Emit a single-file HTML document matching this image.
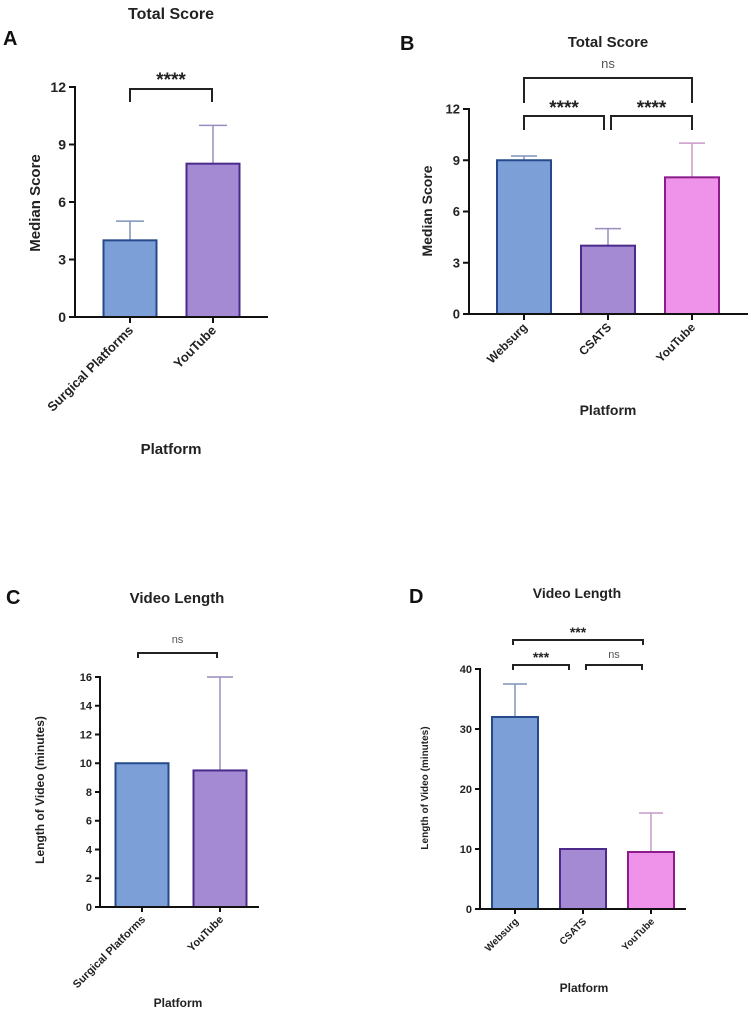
<!DOCTYPE html>
<html><head><meta charset="utf-8"><style>
body{margin:0;background:#fff;}
svg{display:block;font-family:"Liberation Sans",Arial,sans-serif;}
</style></head><body>
<svg id="fig" width="751" height="1018" viewBox="0 0 751 1018" xmlns="http://www.w3.org/2000/svg"></svg>
<script>
// Panel A
const catsA = ["Surgical Platforms","YouTube"];
const valsA = [4, 8];
const errA = [5, 10];
const ticksA = [0,3,6,9,12];
// Panel B
const catsB = ["Websurg","CSATS","YouTube"];
const valsB = [9, 4, 8];
const errB = [9.25, 5, 10];
const ticksB = [0,3,6,9,12];
// Panel C
const catsC = ["Surgical Platforms","YouTube"];
const valsC = [10, 9.5];
const errC = [10, 16];
const ticksC = [0,2,4,6,8,10,12,14,16];
// Panel D
const catsD = ["Websurg","CSATS","YouTube"];
const valsD = [32, 10, 9.5];
const errD = [37.5, 10, 16];
const ticksD = [0,10,20,30,40];

const NS="http://www.w3.org/2000/svg";
const svg=document.getElementById('fig');
function mk(tag,attrs,parent,text){const e=document.createElementNS(NS,tag);for(const k in attrs)e.setAttribute(k,attrs[k]);if(text!==undefined)e.textContent=text;(parent||svg).appendChild(e);return e;}

const fills=["#7b9fd6","#a48ad2","#ee93e9"];
const strokes=["#254a8c","#4b2a8c","#8c1c8c"];
const errCols=["#7f93b8","#9c8cbf","#c99ac8"];

function panel(cfg){
  const g=mk('g',{});
  
  
  const ymin=0,ymax=cfg.ticks[cfg.ticks.length-1];
  const Y=v=>cfg.y0+(cfg.y1-cfg.y0)*(v-ymin)/(ymax-ymin);
  const X=i=>cfg.centers[i];
  cfg.vals.forEach((v,i)=>{
    const ci=cfg.colorIdx[i];
    if(cfg.errs[i]>v){
      const eb=mk('g',{},g);
      
      
      mk('line',{x1:X(i),x2:X(i),y1:Y(v),y2:Y(cfg.errs[i]),stroke:errCols[ci],'stroke-width':1.5},eb);
      mk('line',{x1:X(i)-cfg.cap,x2:X(i)+cfg.cap,y1:Y(cfg.errs[i]),y2:Y(cfg.errs[i]),stroke:errCols[ci],'stroke-width':1.5},eb);
    }
    const r=mk('rect',{x:X(i)-cfg.bw/2,y:Y(v),width:cfg.bw,height:Y(0)-Y(v),fill:fills[ci],stroke:strokes[ci],'stroke-width':2},g);
    
    
  });
  const ya=mk('line',{x1:cfg.ax,x2:cfg.ax,y1:Y(0),y2:Y(ymax)-1,stroke:'#111','stroke-width':2},g);
  
  
  const xa=mk('line',{x1:cfg.ax-cfg.tl,x2:cfg.xend,y1:Y(0),y2:Y(0),stroke:'#111','stroke-width':2},g);
  
  
  cfg.ticks.forEach(t=>{
    mk('line',{x1:cfg.ax-cfg.tl,x2:cfg.ax,y1:Y(t),y2:Y(t),stroke:'#111','stroke-width':2},g);
    const tx=mk('text',{x:cfg.ax-cfg.tl-3,y:Y(t)+cfg.tfs*0.36,'text-anchor':'end','font-size':cfg.tfs,'font-weight':'bold',fill:'#222'},g,String(t));
    
    
  });
  cfg.cats.forEach((c,i)=>{
    mk('line',{x1:X(i),x2:X(i),y1:Y(0),y2:Y(0)+cfg.tl,stroke:'#111','stroke-width':2},g);
    const ly=Y(0)+cfg.tl+8;
    const tx=mk('text',{x:X(i)+4,y:ly,'text-anchor':'end','font-size':cfg.cfs,'font-weight':'bold',fill:'#222',transform:`rotate(-45 ${X(i)+4} ${ly})`},g,c);
    
    
  });
  cfg.brackets.forEach(b=>{
    const bg=mk('g',{},g);
    
    
    mk('path',{d:`M${b[0]} ${b[3]} V${b[2]} H${b[1]} V${b[3]}`,fill:'none',stroke:'#222','stroke-width':2},bg);
    const ns=b[4]==='ns';
    mk('text',{x:(b[0]+b[1])/2,y:ns?b[5]:b[5]+4,'text-anchor':'middle','font-size':ns?cfg.nsfs:cfg.sfs,'font-weight':ns?'normal':'bold',fill:ns?'#555':'#222'},bg,b[4]);
  });
  const ti=mk('text',{x:cfg.title[0],y:cfg.title[1],'text-anchor':'middle','font-size':cfg.titfs,'font-weight':'bold',fill:'#222'},g,cfg.titleText);
  
  
  const lb=mk('text',{x:cfg.letter[0],y:cfg.letter[1],'font-size':20,'font-weight':'bold',fill:'#111'},g,cfg.letterText);
  
  
  const yt=mk('text',{x:cfg.ytitle[0],y:cfg.ytitle[1],'text-anchor':'middle','font-size':cfg.ytfs,'font-weight':'bold',fill:'#222',transform:`rotate(-90 ${cfg.ytitle[0]} ${cfg.ytitle[1]})`},g,cfg.ytitleText);
  
  
  const xt=mk('text',{x:cfg.xtitle[0],y:cfg.xtitle[1],'text-anchor':'middle','font-size':cfg.xtfs,'font-weight':'bold',fill:'#222'},g,'Platform');
  
  
}

panel({name:'panel-a-total-score',cats:catsA,vals:valsA,errs:errA,ticks:ticksA,colorIdx:[0,1],
  y0:317,y1:87,ax:75,xend:268,tl:6,centers:[130,213],bw:53,cap:14,tfs:14,cfs:13,sfs:19,nsfs:13,
  brackets:[[130,212,89,102,'****',82]],title:[171,19],titleText:'Total Score',titfs:16,
  letter:[3,45],letterText:'A',ytitle:[40,203],ytitleText:'Median Score',ytfs:15,xtitle:[171,454],xtfs:15});
panel({name:'panel-b-total-score',cats:catsB,vals:valsB,errs:errB,ticks:ticksB,colorIdx:[0,1,2],
  y0:314,y1:109,ax:469,xend:748,tl:6,centers:[524,608,692],bw:54,cap:13,tfs:13,cfs:12,sfs:19,nsfs:13,
  brackets:[[524,692,78,103,'ns',68],[524,604,116,130,'****',110],[611,692,116,130,'****',110]],
  title:[608,47],titleText:'Total Score',titfs:15,letter:[400,50],letterText:'B',
  ytitle:[432,211],ytitleText:'Median Score',ytfs:14,xtitle:[608,415],xtfs:14});
panel({name:'panel-c-video-length',cats:catsC,vals:valsC,errs:errC,ticks:ticksC,colorIdx:[0,1],
  y0:907,y1:677,ax:100,xend:259,tl:5,centers:[142,220],bw:53,cap:13,tfs:11,cfs:11,sfs:14,nsfs:11,
  brackets:[[138,217,653,658,'ns',643]],title:[177,603],titleText:'Video Length',titfs:15,
  letter:[6,604],letterText:'C',ytitle:[44,790],ytitleText:'Length of Video (minutes)',ytfs:12,xtitle:[178,1007],xtfs:12});
panel({name:'panel-d-video-length',cats:catsD,vals:valsD,errs:errD,ticks:ticksD,colorIdx:[0,1,2],
  y0:909,y1:669,ax:480,xend:686,tl:5,centers:[515,583,651],bw:46,cap:12,tfs:11,cfs:10,sfs:14,nsfs:11,
  brackets:[[513,643,640,645,'***',633],[513,569,665,670,'***',658],[586,642,665,670,'ns',658]],
  title:[577,598],titleText:'Video Length',titfs:14,letter:[409,603],letterText:'D',
  ytitle:[428,788],ytitleText:'Length of Video (minutes)',ytfs:10,xtitle:[584,992],xtfs:12});
</script>
</body></html>
